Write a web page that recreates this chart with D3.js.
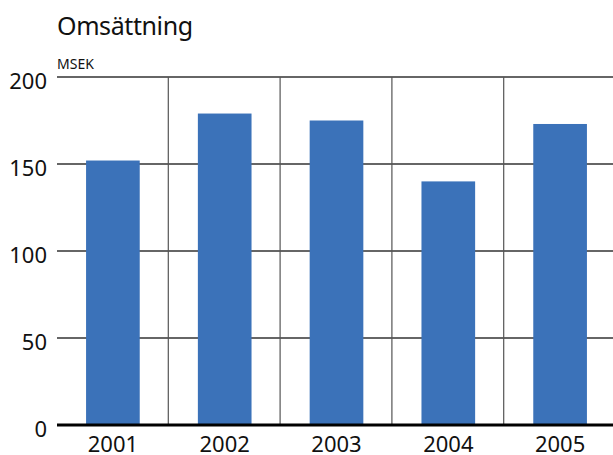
<!DOCTYPE html>
<html>
<head>
<meta charset="utf-8">
<script src="https://cdn.jsdelivr.net/npm/d3@7"></script>
<style>
  body { margin: 0; background: #fff; }
  text { font-family: "Noto Sans", "DejaVu Sans", sans-serif; fill: #111; }
</style>
</head>
<body>
<svg id="chart" width="613" height="455"></svg>
<script>
// data
var years = ['2001', '2002', '2003', '2004', '2005'];
var values = [152, 179, 175, 140, 173];
var yTicks = [0, 50, 100, 150, 200];

var svg = d3.select('#chart');
var plotLeft = 57, plotRight = 616, plotTop = 77, plotBottom = 425;

var x = d3.scaleBand()
    .domain(years)
    .range([plotLeft, plotRight])
    .paddingInner(0.52)
    .paddingOuter(0.26);

var y = d3.scaleLinear()
    .domain([0, 200])
    .range([plotBottom, plotTop]);

svg.append('text')
    .attr('x', 57)
    .attr('y', 35)
    .style('font-size', '25px')
    .style('letter-spacing', '-0.4px')
    .text('Omsättning');

svg.append('text')
    .attr('x', 57)
    .attr('y', 69)
    .style('font-size', '14px')
    .text('MSEK');

// horizontal grid lines
svg.append('g')
    .selectAll('line')
    .data(yTicks.filter(d => d > 0))
    .join('line')
    .attr('x1', plotLeft)
    .attr('x2', 613)
    .attr('y1', d => y(d))
    .attr('y2', d => y(d))
    .attr('stroke', '#333')
    .attr('stroke-width', 1.3);

// vertical separators between the years
var step = x.step();
svg.append('g')
    .selectAll('line')
    .data(years.slice(1))
    .join('line')
    .attr('x1', d => x(d) - x.paddingInner() * step / 2 - 0.5)
    .attr('x2', d => x(d) - x.paddingInner() * step / 2 - 0.5)
    .attr('y1', y(200))
    .attr('y2', plotBottom)
    .attr('stroke', '#555')
    .attr('stroke-width', 1.2);

svg.append('g')
    .selectAll('rect')
    .data(values)
    .join('rect')
    .attr('x', (d, i) => x(years[i]))
    .attr('width', x.bandwidth())
    .attr('y', d => y(d))
    .attr('height', d => plotBottom - y(d))
    .attr('fill', '#3b72b9');

// y labels
svg.append('g')
    .attr('text-anchor', 'end')
    .selectAll('text')
    .data(yTicks)
    .join('text')
    .attr('x', 47)
    .attr('y', d => y(d) + 12)
    .style('font-size', '22px')
    .text(d => d);

// base line
svg.append('line')
    .attr('x1', plotLeft)
    .attr('x2', 613)
    .attr('y1', plotBottom)
    .attr('y2', plotBottom)
    .attr('stroke', '#000')
    .attr('stroke-width', 3);

// x labels
svg.append('g')
    .attr('text-anchor', 'middle')
    .selectAll('text')
    .data(years)
    .join('text')
    .attr('x', d => x(d) + x.bandwidth() / 2)
    .attr('y', 452)
    .style('font-size', '22px')
    .text(d => d);
</script>
</body>
</html>
